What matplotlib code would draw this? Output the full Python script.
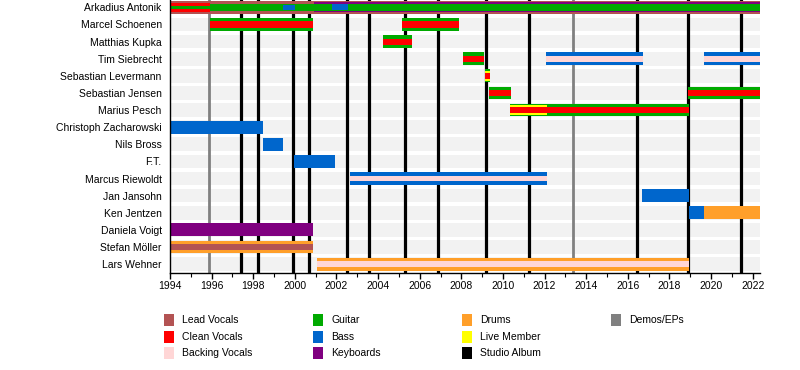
import matplotlib
matplotlib.use("Agg")
import matplotlib.pyplot as plt
from matplotlib.patches import Rectangle

plt.rcParams['font.family'] = ['Liberation Sans', 'DejaVu Sans']

END = 2022.35

members = ["Arkadius Antonik", "Marcel Schoenen", "Matthias Kupka", "Tim Siebrecht",
           "Sebastian Levermann", "Sebastian Jensen", "Marius Pesch",
           "Christoph Zacharowski", "Nils Bross", "F.T.", "Marcus Riewoldt",
           "Jan Jansohn", "Ken Jentzen", "Daniela Voigt", "Stefan Möller", "Lars Wehner"]

colors = {
    "Lead Vocals": "#b35353",
    "Clean Vocals": "#ff0000",
    "Backing Vocals": "#ffd6d6",
    "Guitar": "#00aa00",
    "Bass": "#0066cc",
    "Keyboards": "#800080",
    "Drums": "#ff9f2a",
    "Live Member": "#ffff00",
    "Studio Album": "#000000",
    "Demos/EPs": "#808080",
}

# (member, start, end, role, relative height) drawn in order
periods = [
    ("Arkadius Antonik", 1994.0, END, "Lead Vocals", 0.75),
    ("Arkadius Antonik", 1994.0, 1995.9, "Clean Vocals", 0.5),
    ("Arkadius Antonik", 1994.0, 1995.9, "Guitar", 0.18),
    ("Arkadius Antonik", 2000.9, END, "Keyboards", 0.58),
    ("Arkadius Antonik", 1995.9, END, "Guitar", 0.45),
    ("Arkadius Antonik", 1999.43, 2000.0, "Bass", 0.3),
    ("Arkadius Antonik", 2001.8, 2002.55, "Bass", 0.35),
    ("Marcel Schoenen", 1995.92, 2000.87, "Guitar", 0.75),
    ("Marcel Schoenen", 1995.92, 2000.87, "Clean Vocals", 0.36),
    ("Marcel Schoenen", 2005.14, 2007.88, "Guitar", 0.75),
    ("Marcel Schoenen", 2005.14, 2007.88, "Clean Vocals", 0.36),
    ("Matthias Kupka", 2004.23, 2005.62, "Guitar", 0.75),
    ("Matthias Kupka", 2004.23, 2005.62, "Clean Vocals", 0.36),
    ("Tim Siebrecht", 2008.07, 2009.08, "Guitar", 0.75),
    ("Tim Siebrecht", 2008.07, 2009.08, "Clean Vocals", 0.36),
    ("Tim Siebrecht", 2012.06, 2016.72, "Bass", 0.75),
    ("Tim Siebrecht", 2012.06, 2016.72, "Backing Vocals", 0.33),
    ("Tim Siebrecht", 2019.65, END, "Bass", 0.75),
    ("Tim Siebrecht", 2019.65, END, "Backing Vocals", 0.33),
    ("Sebastian Levermann", 2009.13, 2009.37, "Guitar", 0.75),
    ("Sebastian Levermann", 2009.13, 2009.37, "Live Member", 0.6),
    ("Sebastian Levermann", 2009.13, 2009.37, "Clean Vocals", 0.33),
    ("Sebastian Jensen", 2009.32, 2010.38, "Guitar", 0.75),
    ("Sebastian Jensen", 2009.32, 2010.38, "Clean Vocals", 0.36),
    ("Sebastian Jensen", 2018.88, END, "Guitar", 0.75),
    ("Sebastian Jensen", 2018.88, END, "Clean Vocals", 0.36),
    ("Marius Pesch", 2010.33, 2018.93, "Guitar", 0.75),
    ("Marius Pesch", 2010.33, 2012.1, "Live Member", 0.55),
    ("Marius Pesch", 2010.33, 2018.93, "Clean Vocals", 0.36),
    ("Christoph Zacharowski", 1994.0, 1998.47, "Bass", 0.75),
    ("Nils Bross", 1998.47, 1999.43, "Bass", 0.75),
    ("F.T.", 1999.96, 2001.93, "Bass", 0.75),
    ("Marcus Riewoldt", 2002.65, 2012.1, "Bass", 0.75),
    ("Marcus Riewoldt", 2002.65, 2012.1, "Backing Vocals", 0.33),
    ("Jan Jansohn", 2016.67, 2018.93, "Bass", 0.75),
    ("Ken Jentzen", 2018.93, 2019.65, "Bass", 0.75),
    ("Ken Jentzen", 2019.65, END, "Drums", 0.75),
    ("Daniela Voigt", 1994.0, 2000.87, "Keyboards", 0.75),
    ("Stefan Möller", 1994.0, 2000.87, "Drums", 0.75),
    ("Stefan Möller", 1994.0, 2000.87, "Lead Vocals", 0.33),
    ("Lars Wehner", 2001.06, 2018.93, "Drums", 0.75),
    ("Lars Wehner", 2001.06, 2018.93, "Backing Vocals", 0.33),
]

studio_albums = [1997.41, 1998.23, 1999.91, 2000.68, 2002.50, 2003.56, 2005.29,
                 2006.87, 2009.18, 2011.24, 2016.43, 2018.88, 2021.43]
demos = [1995.87, 2013.36]

year_ticks = list(range(1994, 2023, 2))
minor_ticks = list(range(1994, 2023))

legend_items = [
    ["Lead Vocals", "Clean Vocals", "Backing Vocals"],
    ["Guitar", "Bass", "Keyboards"],
    ["Drums", "Live Member", "Studio Album"],
    ["Demos/EPs"],
]

fig = plt.figure(figsize=(8, 3.7), dpi=100)
ax = fig.add_axes([170 / 800, 1 - 273 / 370, 590 / 800, 273 / 370])
n = len(members)
ax.set_xlim(1994, END)
ax.set_ylim(n - 0.48, -0.43)

# background bands
for i in range(n):
    ax.add_patch(Rectangle((1994, i - 0.4), END - 1994, 0.8, color="#f2f2f2",
                           lw=0, zorder=0))

for x in studio_albums:
    ax.axvline(x, color=colors["Studio Album"], lw=2.3, zorder=1)
for x in demos:
    ax.axvline(x, color=colors["Demos/EPs"], lw=2.0, zorder=1)

idx = {m: i for i, m in enumerate(members)}
for z, (m, s, e, role, h) in enumerate(periods):
    y = idx[m]
    ax.add_patch(Rectangle((s, y - h / 2), e - s, h, color=colors[role], lw=0,
                           zorder=2 + z * 0.01))

ax.set_yticks(range(n))
ax.set_yticklabels(members, fontsize=7.5)
ax.tick_params(axis="y", length=0, pad=6)
ax.set_xticks(year_ticks)
ax.set_xticks(minor_ticks, minor=True)
ax.set_xticklabels([str(t) for t in year_ticks], fontsize=7.5)
ax.tick_params(axis="x", which="major", length=4, width=1, pad=2)
ax.tick_params(axis="x", which="minor", length=3, width=0.8)
for sp in ["top", "right"]:
    ax.spines[sp].set_visible(False)
ax.spines["left"].set_linewidth(1)
ax.spines["bottom"].set_linewidth(1)

# legend
col_x = [164, 313, 462, 611]
row_y = [320, 337, 353]
for c, items in enumerate(legend_items):
    for r, name in enumerate(items):
        x0 = col_x[c]
        yc = row_y[r]
        fig.patches.append(Rectangle((x0 / 800, 1 - (yc + 6) / 370), 10 / 800, 12 / 370,
                                     color=colors[name], transform=fig.transFigure,
                                     figure=fig, lw=0))
        fig.text((x0 + 18) / 800, 1 - yc / 370, name, fontsize=7.5, va="center",
                 ha="left")

fig.savefig("out.png", dpi=100)
